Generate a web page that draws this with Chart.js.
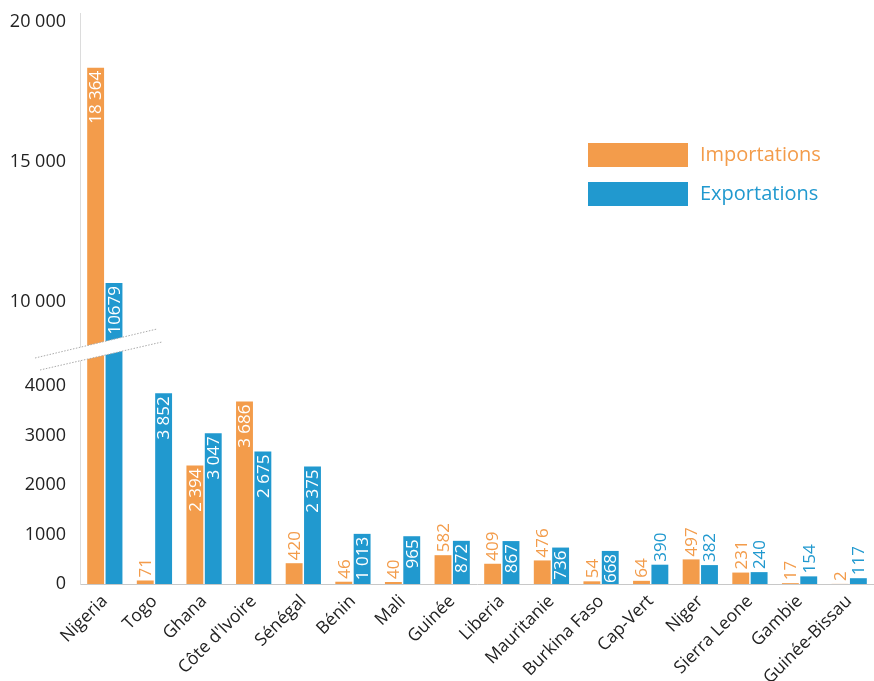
<!DOCTYPE html>
<html lang="fr">
<head>
  <meta charset="UTF-8">
  <title>Importations et exportations</title>
  <style>
    html, body { margin: 0; padding: 0; background: #fff; }
    #wrap { width: 874px; height: 681px; }
  </style>
</head>
<body>
  <div id="wrap"><canvas id="graphique" width="874" height="681"></canvas></div>

  <script src="https://cdn.jsdelivr.net/npm/chart.js"></script>
  <script>
    const pays = ['Nigeria', 'Togo', 'Ghana', "Côte d'Ivoire", 'Sénégal', 'Bénin', 'Mali', 'Guinée',
      'Liberia', 'Mauritanie', 'Burkina Faso', 'Cap-Vert', 'Niger', 'Sierra Leone', 'Gambie', 'Guinée-Bissau'];
    const importations = [18364, 71, 2394, 3686, 420, 46, 40, 582, 409, 476, 54, 64, 497, 231, 17, 2];
    const exportations = [10679, 3852, 3047, 2675, 2375, 1013, 965, 872, 867, 736, 668, 390, 382, 240, 154, 117];
    const ticksBas = [0, 1000, 2000, 3000, 4000];
    const ticksHaut = [10000, 15000, 20000];

    const ORANGE = '#F39C4B';
    const BLEU = '#2199CF';
    const POLICE = "'Open Sans', sans-serif";

    // axe coupé : en dessous de la coupure l'échelle est normale,
    // au-dessus on comprime (10 000 -> 20 000)
    const HAUT0 = 5697, HAUT_K = 0.5657;
    function versAxe(v) {
      return v <= 5000 ? v : HAUT0 + (v - 10000) * HAUT_K;
    }
    function depuisAxe(d) {
      return d <= 5000 ? d : Math.round(10000 + (d - HAUT0) / HAUT_K);
    }
    function fmt(v) {
      if (v === 10679) return '10679';
      return v >= 1000 ? String(v).replace(/\B(?=(\d{3})+(?!\d))/g, ' ') : String(v);
    }

    const etiquettes = {
      id: 'etiquettes',
      afterDatasetsDraw(chart) {
        const ctx = chart.ctx;
        ctx.save();
        ctx.font = '17px ' + POLICE;
        ctx.textBaseline = 'middle';
        chart.data.datasets.forEach((ds, i) => {
          chart.getDatasetMeta(i).data.forEach((bar, j) => {
            const txt = fmt(ds.brut[j]);
            const w = ctx.measureText(txt).width;
            const h = bar.base - bar.y;
            ctx.save();
            ctx.translate(bar.x + 1, bar.y);
            ctx.rotate(-Math.PI / 2);
            if (h >= w + 2) {
              ctx.fillStyle = '#fff';
              ctx.textAlign = 'right';
              ctx.fillText(txt, -3, 0);
            } else {
              ctx.fillStyle = ds.backgroundColor;
              ctx.textAlign = 'left';
              ctx.fillText(txt, 3, 0);
            }
            ctx.restore();
          });
        });
        ctx.restore();
      }
    };

    const decor = {
      id: 'decor',
      afterDraw(chart) {
        const ctx = chart.ctx;
        ctx.save();
        // coupure de l'axe
        ctx.fillStyle = '#fff';
        ctx.beginPath();
        ctx.moveTo(35, 358);
        ctx.lineTo(157, 329);
        ctx.lineTo(162, 342);
        ctx.lineTo(40, 370);
        ctx.closePath();
        ctx.fill();
        ctx.strokeStyle = '#aaa';
        ctx.lineWidth = 1;
        ctx.setLineDash([1.5, 1.5]);
        ctx.beginPath();
        ctx.moveTo(35, 358); ctx.lineTo(157, 329);
        ctx.moveTo(40, 370); ctx.lineTo(162, 342);
        ctx.stroke();
        ctx.setLineDash([]);

        // légende
        ctx.font = '20px ' + POLICE;
        ctx.textBaseline = 'middle';
        chart.data.datasets.forEach((ds, i) => {
          const y = 143 + i * 39;
          ctx.fillStyle = ds.backgroundColor;
          ctx.fillRect(588, y, 100, 24);
          ctx.fillText(ds.label, 700, y + 12);
        });
        ctx.restore();
      }
    };

    const ctx = document.getElementById('graphique').getContext('2d');
    new Chart(ctx, {
      type: 'bar',
      data: {
        labels: pays,
        datasets: [
          { label: 'Importations', brut: importations, data: importations.map(versAxe), backgroundColor: ORANGE },
          { label: 'Exportations', brut: exportations, data: exportations.map(versAxe), backgroundColor: BLEU }
        ]
      },
      options: {
        responsive: false,
        animation: false,
        layout: { padding: { top: 13, right: 0, left: 0, bottom: 0 } },
        datasets: { bar: { categoryPercentage: 0.74, barPercentage: 0.92 } },
        plugins: { legend: { display: false }, tooltip: { enabled: false } },
        scales: {
          x: {
            grid: { display: false, drawTicks: false },
            border: { color: '#c8c8c8', dash: [2, 2] },
            ticks: {
              color: '#222', font: { family: POLICE, size: 17.5 },
              maxRotation: 45, minRotation: 45, autoSkip: false, padding: 7
            },
            afterFit(scale) { scale.height = 97; }
          },
          y: {
            min: 0,
            max: 11535,
            grid: { display: false, drawTicks: false },
            border: { color: '#dcdcdc' },
            afterBuildTicks(scale) {
              scale.ticks = ticksBas.concat(ticksHaut).map(v => ({ value: versAxe(v) }));
            },
            ticks: {
              color: '#222', font: { family: POLICE, size: 18 }, padding: 14,
              callback(val) {
                const v = depuisAxe(val);
                return v >= 10000 ? fmt(v) : String(v);
              }
            },
            afterFit(scale) {
              scale.width = 80;
              scale.paddingTop = 0;
              scale.paddingBottom = 0;
            }
          }
        }
      },
      plugins: [etiquettes, decor]
    });
  </script>
</body>
</html>
